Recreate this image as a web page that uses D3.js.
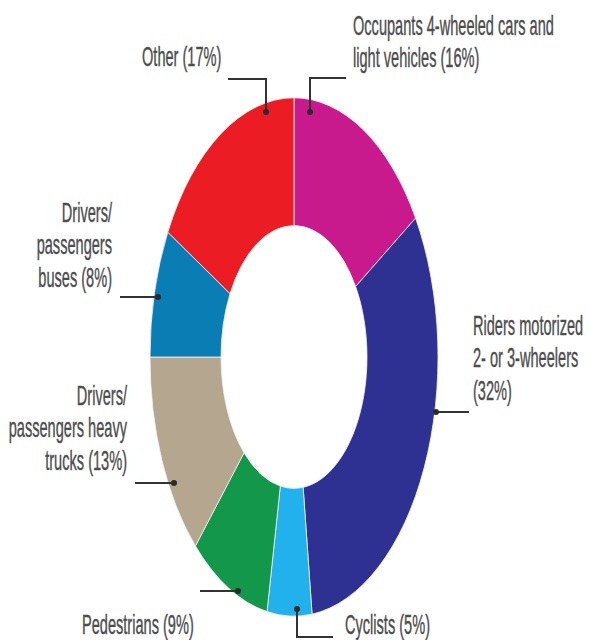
<!DOCTYPE html>
<html>
<head>
<meta charset="utf-8">
<script src="https://cdn.jsdelivr.net/npm/d3@7"></script>
<style>
  html, body { margin: 0; padding: 0; background: #ffffff; }
  svg { display: block; }
  .lbl { font-family: "Liberation Sans", Arial, sans-serif; font-size: 27px; fill: #4d4d4d; stroke: #4d4d4d; stroke-width: 0.4px; }
</style>
</head>
<body>
<svg id="chart" width="589" height="640"></svg>
<script>
// Road traffic deaths by type of road user (share of total, %)
const categories = [
  "Occupants 4-wheeled cars and light vehicles",
  "Riders motorized 2- or 3-wheelers",
  "Cyclists",
  "Pedestrians",
  "Drivers/passengers heavy trucks",
  "Drivers/passengers buses",
  "Other"
];
const shares = [16, 32, 5, 9, 13, 8, 17];
const labelLines = [
  ["Occupants 4-wheeled cars and", "light vehicles (16%)"],
  ["Riders motorized", "2- or 3-wheelers", "(32%)"],
  ["Cyclists (5%)"],
  ["Pedestrians (9%)"],
  ["Drivers/", "passengers heavy", "trucks (13%)"],
  ["Drivers/", "passengers", "buses (8%)"],
  ["Other (17%)"]
];
const colors = ["#c8198d", "#2e3192", "#22b1ec", "#13974a", "#b5a68f", "#0b7db5", "#ec1c24"];

// Layout: ring centre, radii and the vertical stretch of the ring
const cx = 294, cy = 357, rOuter = 144, rInner = 73, stretchY = 1.8;

// Label placement: text anchor, baseline of first line, leader path (ending at the dot)
const labelLayout = [
  { x: 353, y: 35,  anchor: "start", leader: [[346, 78], [310, 78], [310, 112]] },
  { x: 473, y: 335, anchor: "start", leader: [[469, 412], [436, 412]] },
  { x: 345, y: 634, anchor: "start", leader: [[333, 637], [297, 637], [297, 609]] },
  { x: 82,  y: 634, anchor: "start", leader: [[200, 591], [238, 591]] },
  { x: 127, y: 405, anchor: "end",   leader: [[135, 483], [174, 483]] },
  { x: 112, y: 222, anchor: "end",   leader: [[120, 297], [158, 297]] },
  { x: 142, y: 66,  anchor: "start", leader: [[228, 79], [266, 79], [266, 112]] }
];
const lineGap = 32.5, squeeze = 0.54;

const svg = d3.select("#chart");

const pie = d3.pie().sort(null).value(d => d).startAngle(0).endAngle(2 * Math.PI);
const arc = d3.arc().innerRadius(rInner).outerRadius(rOuter);

const ring = svg.append("g")
  .attr("transform", `translate(${cx},${cy}) scale(1,${stretchY})`);

ring.selectAll("path")
  .data(pie(shares))
  .join("path")
  .attr("d", arc)
  .attr("fill", (d, i) => colors[i])
  .attr("stroke", "#f2f2f2")
  .attr("stroke-width", 0.8)
  .attr("vector-effect", "non-scaling-stroke");

// Leader lines and dots
const line = d3.line();
const leaders = svg.append("g");
labelLayout.forEach(l => {
  leaders.append("path")
    .attr("d", line(l.leader))
    .attr("fill", "none")
    .attr("stroke", "#333333")
    .attr("stroke-width", 2);
  const end = l.leader[l.leader.length - 1];
  leaders.append("circle")
    .attr("cx", end[0]).attr("cy", end[1]).attr("r", 3)
    .attr("fill", "#2a2a2a");
});

// Condensed labels
const labels = svg.append("g");
labelLines.forEach((lines, i) => {
  const l = labelLayout[i];
  const g = labels.append("g")
    .attr("transform", `translate(${l.x},${l.y}) scale(${squeeze},1)`);
  const t = g.append("text")
    .attr("class", "lbl")
    .attr("text-anchor", l.anchor);
  lines.forEach((s, k) => {
    t.append("tspan").attr("x", 0).attr("y", k * lineGap).text(s);
  });
});
</script>
</body>
</html>
